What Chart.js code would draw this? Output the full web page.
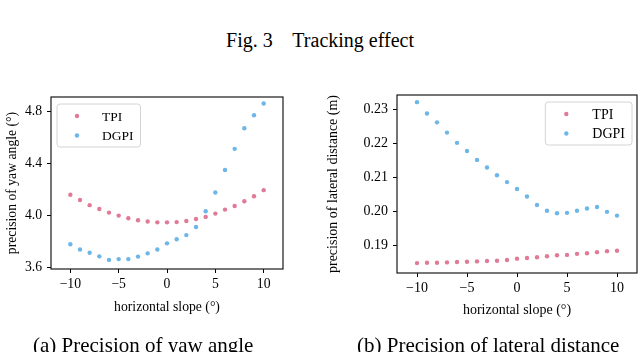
<!DOCTYPE html>
<html>
<head>
<meta charset="utf-8">
<script src="https://cdn.jsdelivr.net/npm/chart.js@4"></script>
<style>
    body { margin: 0; width: 640px; height: 352px; overflow: hidden; background: #fff; position: relative; font-family: 'Liberation Serif', serif; color: #000; }
    .painel { position: absolute; top: 0; width: 320px; height: 352px; }
    #titulo { position: absolute; top: 29px; left: 0; width: 640px; text-align: center; font-size: 20px; white-space: pre; }
    .legenda { position: absolute; top: 333px; font-size: 21px; white-space: nowrap; }
</style>
</head>
<body>
<div id="titulo">Fig. 3    Tracking effect</div>
<div class="painel" style="left:0"><canvas id="yaw-chart"></canvas></div>
<div class="painel" style="left:320px"><canvas id="lateral-chart"></canvas></div>
<div class="legenda" style="left:33px">(a) Precision of yaw angle</div>
<div class="legenda" style="left:357px">(b) Precision of lateral distance</div>
<script>
// Dados
const slopes = [-10, -9, -8, -7, -6, -5, -4, -3, -2, -1, 0, 1, 2, 3, 4, 5, 6, 7, 8, 9, 10];
const yawTPI = [4.16, 4.12, 4.08, 4.05, 4.023, 4.0, 3.98, 3.964, 3.954, 3.948, 3.948, 3.95, 3.958, 3.974, 3.99, 4.015, 4.046, 4.074, 4.11, 4.148, 4.195];
const yawDGPI = [3.78, 3.74, 3.715, 3.687, 3.66, 3.666, 3.666, 3.685, 3.71, 3.74, 3.787, 3.818, 3.85, 3.912, 4.033, 4.177, 4.35, 4.512, 4.67, 4.77, 4.86];
const latTPI = [0.1849, 0.1850, 0.1850, 0.1851, 0.1852, 0.1853, 0.1854, 0.1855, 0.1856, 0.1858, 0.1862, 0.1864, 0.1866, 0.1869, 0.1872, 0.1873, 0.1876, 0.1878, 0.1881, 0.1884, 0.1885];
const latDGPI = [0.2320, 0.2287, 0.2261, 0.2231, 0.2201, 0.2177, 0.2151, 0.2129, 0.2106, 0.2086, 0.2066, 0.2044, 0.2019, 0.2002, 0.1995, 0.1996, 0.2002, 0.2009, 0.2013, 0.1999, 0.1988];

const xTicks = [-10, -5, 0, 5, 10];
const yawTicks = [3.6, 4.0, 4.4, 4.8];
const latTicks = [0.19, 0.20, 0.21, 0.22, 0.23];

const seriesLabels = ['TPI', 'DGPI'];
const seriesColors = ['#e07b97', '#6db6e8'];

const FONTE = 'Liberation Serif';

// Moldura completa em volta da área do gráfico
const molduraPlugin = {
    id: 'moldura',
    afterDraw(chart) {
        const { ctx, chartArea: a } = chart;
        ctx.save();
        ctx.strokeStyle = '#1a1a1a';
        ctx.lineWidth = 1.2;
        ctx.strokeRect(a.left, a.top, a.right - a.left, a.bottom - a.top);
        ctx.restore();
    }
};

// Legenda desenhada dentro da área do gráfico
const legendaPlugin = {
    id: 'legendaInterna',
    afterDraw(chart, args, opts) {
        const { ctx, chartArea: a } = chart;
        const datasets = chart.data.datasets;
        ctx.save();
        ctx.font = opts.fontSize + 'px "' + FONTE + '"';
        const textW = Math.max(...datasets.map(d => ctx.measureText(d.label).width));
        const w = opts.textOffset + textW + 7;
        const h = 43;
        const x = opts.corner === 'left' ? a.left + 6 : a.right - 5 - w;
        const y = a.top + 7;
        ctx.beginPath();
        ctx.roundRect(x, y, w, h, 3);
        ctx.fillStyle = 'rgba(255,255,255,0.8)';
        ctx.fill();
        ctx.strokeStyle = '#d4d4d4';
        ctx.lineWidth = 1;
        ctx.stroke();
        datasets.forEach((d, i) => {
            const cy = y + 12 + i * 19.5;
            ctx.beginPath();
            ctx.arc(x + opts.markerOffset, cy, 2.2, 0, Math.PI * 2);
            ctx.fillStyle = d.backgroundColor;
            ctx.fill();
            ctx.fillStyle = '#000';
            ctx.textBaseline = 'middle';
            ctx.fillText(d.label, x + opts.textOffset, cy + 1);
        });
        ctx.restore();
    }
};

function fmtTick(v, casas) {
    const s = Math.abs(v).toFixed(casas);
    return v < 0 ? '\u2212' + s : s;
}

function renderScatterChart(canvasId, series, yTicks, yMin, yMax, casas, yTitle, cfg) {
    const canvas = document.getElementById(canvasId);
    if (!canvas) {
        console.error(`Canvas ${canvasId} não encontrado`);
        return;
    }
    new Chart(canvas, {
        type: 'scatter',
        data: {
            datasets: series.map((vals, i) => ({
                label: seriesLabels[i],
                data: slopes.map((s, j) => ({ x: s, y: vals[j] })),
                backgroundColor: seriesColors[i],
                borderWidth: 0,
                pointRadius: 2.2,
                pointHoverRadius: 2.2
            }))
        },
        options: {
            responsive: true,
            maintainAspectRatio: false,
            animation: false,
            layout: { padding: cfg.padding },
            plugins: {
                legend: { display: false },
                tooltip: { enabled: false },
                legendaInterna: cfg.legenda
            },
            scales: {
                x: {
                    type: 'linear',
                    min: -12,
                    max: 12,
                    afterBuildTicks: s => { s.ticks = xTicks.map(v => ({ value: v })); },
                    afterFit: s => { s.height = 50; },
                    grid: { drawOnChartArea: false, tickLength: 4, tickColor: '#000' },
                    border: { display: false },
                    ticks: {
                        color: '#000', autoSkip: false, maxRotation: 0, padding: 3,
                        font: { family: FONTE, size: cfg.fontSize },
                        callback: v => fmtTick(v, 0)
                    },
                    title: {
                        display: true, text: 'horizontal slope (°)', color: '#000',
                        font: { family: FONTE, size: cfg.fontSize },
                        padding: { top: 0, bottom: cfg.xTitlePad }
                    }
                },
                y: {
                    type: 'linear',
                    min: yMin,
                    max: yMax,
                    afterBuildTicks: s => { s.ticks = yTicks.map(v => ({ value: v })); },
                    afterFit: s => { s.width = cfg.yWidth; },
                    grid: { drawOnChartArea: false, tickLength: 4, tickColor: '#000' },
                    border: { display: false },
                    ticks: {
                        color: '#000', autoSkip: false, padding: 5,
                        font: { family: FONTE, size: cfg.fontSize },
                        callback: v => fmtTick(v, casas)
                    },
                    title: {
                        display: true, text: yTitle, color: '#000',
                        font: { family: FONTE, size: cfg.fontSize },
                        padding: { top: cfg.yTitlePad, bottom: 0 }
                    }
                }
            }
        },
        plugins: [molduraPlugin, legendaPlugin]
    });
}

renderScatterChart('yaw-chart', [yawTPI, yawDGPI], yawTicks, 3.59, 4.91, 1, 'precision of yaw angle (°)', {
    padding: { top: 97, right: 37, bottom: 33, left: 0 },
    fontSize: 13.7,
    yWidth: 51,
    yTitlePad: 4.2,
    xTitlePad: 3.5,
    legenda: { corner: 'left', fontSize: 13.5, markerOffset: 20, textOffset: 45 }
});

renderScatterChart('lateral-chart', [latTPI, latDGPI], latTicks, 0.182, 0.2341, 2, 'precision of lateral distance (m)', {
    padding: { top: 95, right: 3, bottom: 29, left: 0 },
    fontSize: 14,
    yWidth: 77,
    yTitlePad: 5.2,
    xTitlePad: 4.2,
    legenda: { corner: 'right', fontSize: 14, markerOffset: 21, textOffset: 47 }
});
</script>
</body>
</html>
